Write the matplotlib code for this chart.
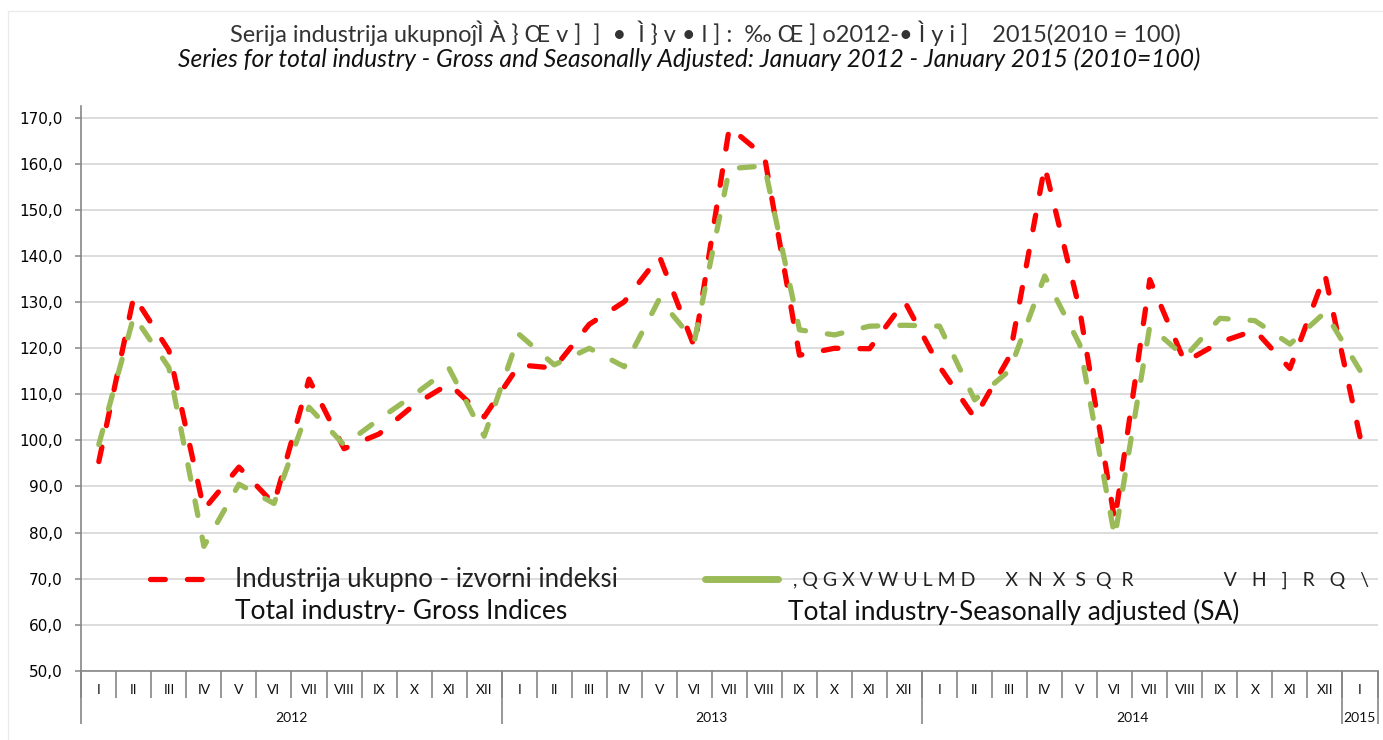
import matplotlib
matplotlib.use('Agg')
import matplotlib.pyplot as plt
from matplotlib.lines import Line2D
import numpy as np

# mjeseci i godine na kategorijskoj osi
months = ['I', 'II', 'III', 'IV', 'V', 'VI', 'VII', 'VIII', 'IX', 'X', 'XI', 'XII'] * 3 + ['I']
years = ['2012', '2013', '2014', '2015']
year_len = [12, 12, 12, 1]

# Industrija ukupno - izvorni indeksi
gross = [95.4, 131.3, 119.5, 85.0, 94.2, 86.2, 113.3, 98.2, 101.4, 107.7, 112.3, 105.1,
         116.4, 115.7, 125.2, 130.1, 140.0, 120.3, 168.0, 161.7, 118.5, 120.0, 119.9, 130.2,
         116.0, 104.9, 118.3, 159.5, 128.3, 82.6, 134.9, 117.0, 121.3, 123.9, 115.6, 136.0,
         100.8]

# Industrija ukupno - desezonirani (SA)
sa = [99.1, 127.0, 115.8, 77.0, 90.5, 86.3, 107.2, 99.0, 104.6, 109.9, 115.6, 100.9,
      123.0, 116.4, 120.0, 116.0, 130.7, 121.5, 159.0, 159.6, 124.0, 122.9, 124.8, 125.0,
      124.8, 108.8, 115.2, 135.7, 120.8, 79.0, 124.8, 118.1, 126.5, 126.0, 120.9, 127.8,
      115.2]

yticks = list(range(50, 171, 10))

RED = '#FF0000'
GREEN = '#9BBB59'
AXIS = '#868686'
GRID = '#D9D9D9'
TXT = 'Lato'
LW = 3.8
DASH, GAP = 2.8, 4.2

W, H = 1383, 740
fig = plt.figure(figsize=(W / 100, H / 100), dpi=100, facecolor='white')

# okvir grafikona
fig.add_artist(plt.Rectangle((8 / W, -0.01), 1.0, 1 - 11 / H + 0.01, transform=fig.transFigure,
                             fill=False, edgecolor='#EBEBEB', lw=1))

ax = fig.add_axes([81.3 / W, 1 - 670.7 / H, (1377.5 - 81.3) / W, (670.7 - 106) / H])
x = np.arange(len(months))
ax.set_xlim(-0.5, len(months) - 0.5)
ax.set_ylim(50, 172.6)


def fit_dashes(vals):
    # isprekidana linija neka pocne i zavrsi crticom
    p = ax.transData.transform(np.column_stack([x, vals]))
    length = np.hypot(*np.diff(p, axis=0).T).sum() * 72 / fig.dpi
    d = DASH * LW
    n = max(1, round((length - d) / ((DASH + GAP) * LW)))
    g = (length - d) / n - d
    return (DASH, g / LW)


ax.plot(x, gross, color=RED, lw=LW, dashes=fit_dashes(gross), dash_capstyle='round', zorder=3)
ax.plot(x, sa, color=GREEN, lw=LW, dashes=fit_dashes(sa), dash_capstyle='round', zorder=4)

ax.set_yticks(yticks)
ax.set_yticklabels([f'{v:.1f}'.replace('.', ',') for v in yticks], fontsize=11,
                   family='DejaVu Sans')
ax.yaxis.grid(True, color=GRID, lw=1.3)
ax.set_axisbelow(True)
ax.tick_params(axis='y', length=4.5, width=1.1, color=AXIS, pad=9)
ax.set_xticks([])
for s in ['top', 'right']:
    ax.spines[s].set_visible(False)
for s in ['left', 'bottom']:
    ax.spines[s].set_color(AXIS)
    ax.spines[s].set_linewidth(1.2)

# dvoslojna kategorijska os
tr = ax.get_xaxis_transform()
hpx = 670.7 - 106
for i, m in enumerate(months):
    ax.text(i, -19.5 / hpx, m, transform=tr, ha='center', va='center', fontsize=10,
            family=TXT, color='#111111')
ax.vlines(np.arange(len(months) + 1) - 0.5, -27 / hpx, 0, transform=tr, colors=AXIS,
          lw=1.2, clip_on=False)
start = 0
for yr, n in zip(years, year_len):
    ax.text(start + n / 2 - 0.5, -47 / hpx, yr, transform=tr, ha='center', va='center',
            fontsize=10, family=TXT, color='#111111')
    start += n
bounds = np.cumsum([0] + year_len) - 0.5
ax.vlines(bounds, -53 / hpx, 0, transform=tr, colors=AXIS, lw=1.2, clip_on=False)

# naslov
fig.text(705 / W, 1 - 33 / H,
         'Serija industrija ukupno\u0135\u00cc \u00c0 } \u0152 v ]  ]  \u2022  \u00cc } v \u2022 l ] :  '
         '\u2030 \u0152 ] o2012-\u2022 \u00cc y i ]    2015(2010 = 100)',
         ha='center', va='center', fontsize=16.9, family=TXT, color='#333333')
fig.text(689 / W, 1 - 59 / H,
         'Series for total industry - Gross and Seasonally Adjusted: January 2012 - January 2015 (2010=100)',
         ha='center', va='center', fontsize=17.7, family=TXT, style='italic', color='#111111')

# legenda
LFS = 18.5
lpx = LFS * 100 / 72
GFS = 14
gpx = GFS * 100 / 72
h_red = Line2D([], [], color=RED, lw=LW, dashes=(DASH, GAP), dash_capstyle='round')
h_green = Line2D([], [], color=GREEN, lw=5, solid_capstyle='round')
leg1 = ax.legend([h_red], ['Industrija ukupno - izvorni indeksi'], loc='center left',
                 bbox_to_anchor=(150 / W, 1 - 580 / H), bbox_transform=fig.transFigure,
                 frameon=False, borderpad=0, borderaxespad=0, handlelength=70 / lpx,
                 handletextpad=15 / lpx, prop={'family': TXT, 'size': LFS})
for t in leg1.get_texts():
    t.set_color('#222222')
ax.add_artist(leg1)
garbled = (', Q G X V W U L M D' + ' ' * 6 + 'X  N  X  S  Q  R' + ' ' * 18
           + 'V   H   ]   R   Q   \\')
leg2 = ax.legend([h_green], [garbled],
                 loc='center left', bbox_to_anchor=(705 / W, 1 - 580 / H),
                 bbox_transform=fig.transFigure, frameon=False, borderpad=0, borderaxespad=0,
                 handlelength=73 / gpx, handletextpad=15 / gpx,
                 prop={'family': TXT, 'size': GFS})
for t in leg2.get_texts():
    t.set_color('#222222')
    t.set_clip_box(ax.bbox)
    t.set_clip_on(True)

fig.text(235 / W, 1 - 612 / H, 'Total industry- Gross Indices', ha='left', va='center',
         fontsize=19, family=TXT, color='#111111')
fig.text(788 / W, 1 - 612 / H, 'Total industry-Seasonally adjusted (SA)', ha='left',
         va='center', fontsize=19, family=TXT, color='#111111')

fig.savefig('out.png', dpi=100, facecolor='white')
